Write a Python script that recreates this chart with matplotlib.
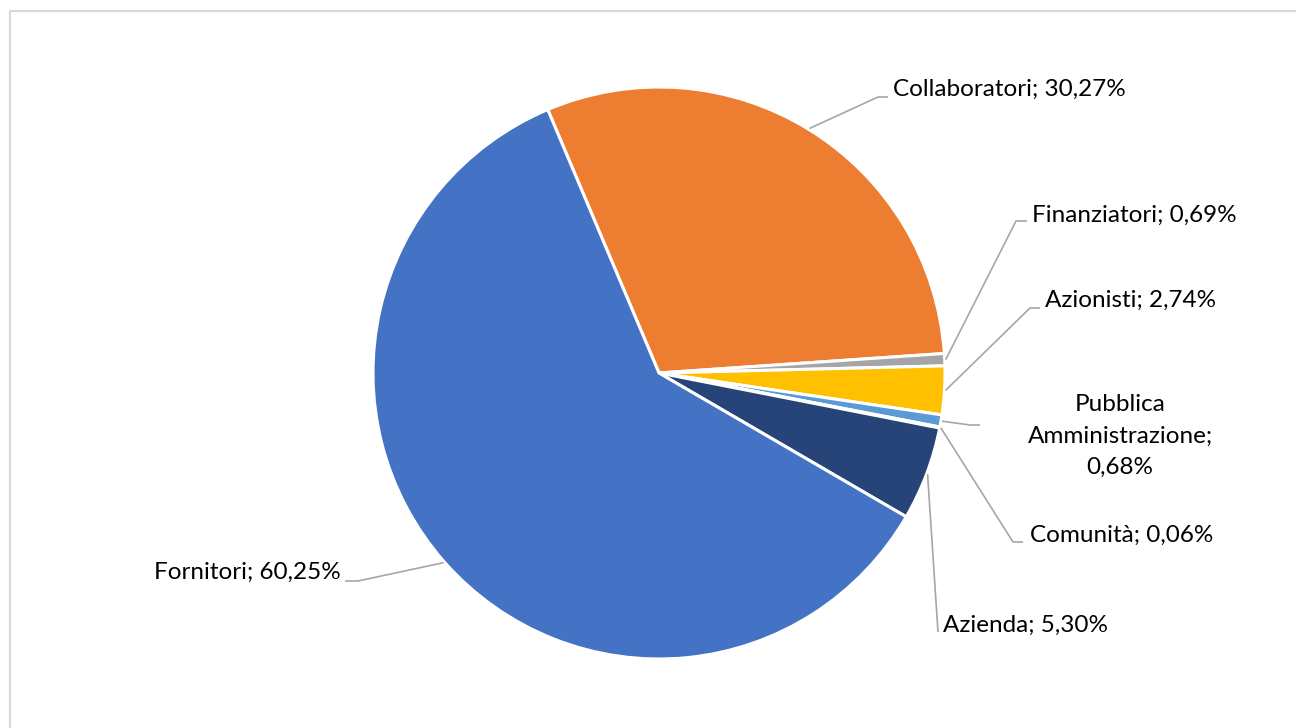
import numpy as np
import matplotlib.pyplot as plt

W, H = 1296, 728

# data (clockwise order starting from the Fornitori/Collaboratori boundary)
categories = ['Collaboratori', 'Finanziatori', 'Azionisti', 'Pubblica\nAmministrazione',
              'Comunità', 'Azienda', 'Fornitori']
values = [30.27, 0.69, 2.74, 0.68, 0.06, 5.30, 60.25]
value_labels = ['30,27%', '0,69%', '2,74%', '0,68%', '0,06%', '5,30%', '60,25%']
colors = ['#ED7D31', '#A5A5A5', '#FFC000', '#5B9BD5', '#70AD47', '#264478', '#4472C4']

# layout (pixel coords, y down): label anchor, elbow, end of leader
label_pos = [(893, 89), (1032, 215), (1045, 300), (1120, 436), (1030, 535), (943, 625), (341, 572)]
label_ha = ['left', 'left', 'left', 'center', 'left', 'left', 'right']
elbows = [(878, 97), (1016, 221), (1030, 308), (970, 425), (1013, 542), (938, 632), (358, 581)]
ends = [(888, 97), (1027, 221), (1040, 308), (980, 425), (1023, 542), (938, 632), (345, 581)]

cx, cy, r = 659, 373, 286
start = 112.9

fig = plt.figure(figsize=(W / 100, H / 100), dpi=100)
ax = fig.add_axes([0, 0, 1, 1])

wedges, _ = ax.pie(values, colors=colors, startangle=start, counterclock=False,
                   center=(cx, H - cy), radius=r,
                   wedgeprops=dict(edgecolor='white', linewidth=2.2))
ax.set_xlim(0, W)
ax.set_ylim(0, H)
ax.set_aspect('equal')
ax.axis('off')

for w, lab, val, (tx, ty), ha, (ex, ey), (nx, ny) in zip(
        wedges, categories, value_labels, label_pos, label_ha, elbows, ends):
    mid = np.deg2rad((w.theta1 + w.theta2) / 2)
    sx = cx + (r + 1) * np.cos(mid)
    sy = (H - cy) + (r + 1) * np.sin(mid)
    ax.plot([sx, ex, nx], [sy, H - ey, H - ny], color='#A6A6A6', lw=1.2,
            solid_capstyle='butt', zorder=1)
    txt = lab + '; ' + val if '\n' not in lab else lab + ';\n' + val
    ax.text(tx, H - ty, txt, ha=ha, va='center', fontsize=17.5, family='Lato',
            color='#000000', linespacing=1.6)

# chart area border (only top and left visible)
ax.plot([9.5, 9.5, W], [0, H - 10.5, H - 10.5], color='#D9D9D9', lw=1.5)

fig.savefig('out.png', dpi=100)
